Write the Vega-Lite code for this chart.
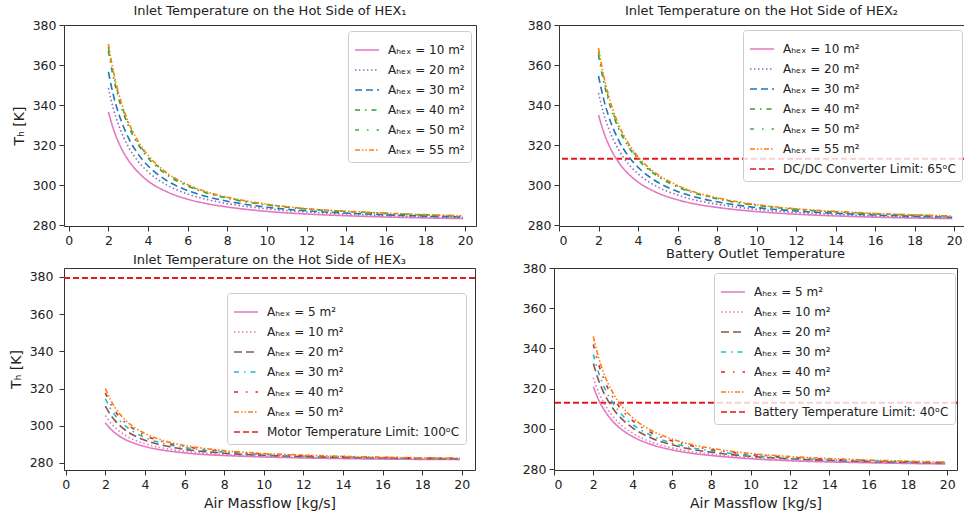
{
"$schema": "https://vega.github.io/schema/vega-lite/v6.json",
"padding": {"left": 8, "top": 4, "right": 0, "bottom": 0},
"background": "white",
"datasets": {
"hex1": [
{"a":"10","x":2,"T":336.5},{"a":"10","x":2.25,"T":328.1},{"a":"10","x":2.5,"T":321.6},{"a":"10","x":3,"T":312.5},{"a":"10","x":3.5,"T":306.4},{"a":"10","x":4,"T":302.0},{"a":"10","x":5,"T":296.4},{"a":"10","x":6,"T":292.9},{"a":"10","x":7,"T":290.6},{"a":"10","x":8,"T":289.0},{"a":"10","x":10,"T":286.8},{"a":"10","x":12,"T":285.5},{"a":"10","x":15,"T":284.3},{"a":"10","x":19.9,"T":283.2},
{"a":"20","x":2,"T":348.5},{"a":"20","x":2.25,"T":338.2},{"a":"20","x":2.5,"T":330.4},{"a":"20","x":3,"T":319.3},{"a":"20","x":3.5,"T":311.8},{"a":"20","x":4,"T":306.6},{"a":"20","x":5,"T":299.7},{"a":"20","x":6,"T":295.5},{"a":"20","x":7,"T":292.7},{"a":"20","x":8,"T":290.7},{"a":"20","x":10,"T":288.1},{"a":"20","x":12,"T":286.5},{"a":"20","x":15,"T":285.1},{"a":"20","x":19.9,"T":283.7},
{"a":"30","x":2,"T":356.5},{"a":"30","x":2.25,"T":345.0},{"a":"30","x":2.5,"T":336.3},{"a":"30","x":3,"T":323.8},{"a":"30","x":3.5,"T":315.5},{"a":"30","x":4,"T":309.6},{"a":"30","x":5,"T":301.9},{"a":"30","x":6,"T":297.2},{"a":"30","x":7,"T":294.1},{"a":"30","x":8,"T":291.9},{"a":"30","x":10,"T":288.9},{"a":"30","x":12,"T":287.1},{"a":"30","x":15,"T":285.5},{"a":"30","x":19.9,"T":284.0},
{"a":"40","x":2,"T":367.0},{"a":"40","x":2.25,"T":353.9},{"a":"40","x":2.5,"T":344.0},{"a":"40","x":3,"T":329.8},{"a":"40","x":3.5,"T":320.3},{"a":"40","x":4,"T":313.6},{"a":"40","x":5,"T":304.8},{"a":"40","x":6,"T":299.5},{"a":"40","x":7,"T":295.9},{"a":"40","x":8,"T":293.4},{"a":"40","x":10,"T":290.0},{"a":"40","x":12,"T":288.0},{"a":"40","x":15,"T":286.2},{"a":"40","x":19.9,"T":284.4},
{"a":"50","x":2,"T":369.0},{"a":"50","x":2.25,"T":355.6},{"a":"50","x":2.5,"T":345.4},{"a":"50","x":3,"T":330.9},{"a":"50","x":3.5,"T":321.2},{"a":"50","x":4,"T":314.4},{"a":"50","x":5,"T":305.4},{"a":"50","x":6,"T":299.9},{"a":"50","x":7,"T":296.2},{"a":"50","x":8,"T":293.7},{"a":"50","x":10,"T":290.2},{"a":"50","x":12,"T":288.1},{"a":"50","x":15,"T":286.3},{"a":"50","x":19.9,"T":284.5},
{"a":"55","x":2,"T":370.5},{"a":"55","x":2.25,"T":356.9},{"a":"55","x":2.5,"T":346.5},{"a":"55","x":3,"T":331.7},{"a":"55","x":3.5,"T":321.9},{"a":"55","x":4,"T":314.9},{"a":"55","x":5,"T":305.8},{"a":"55","x":6,"T":300.2},{"a":"55","x":7,"T":296.5},{"a":"55","x":8,"T":293.9},{"a":"55","x":10,"T":290.4},{"a":"55","x":12,"T":288.2},{"a":"55","x":15,"T":286.4},{"a":"55","x":19.9,"T":284.6}
],
"hex2": [
{"a":"10","x":2,"T":335.0},{"a":"10","x":2.25,"T":326.8},{"a":"10","x":2.5,"T":320.5},{"a":"10","x":3,"T":311.6},{"a":"10","x":3.5,"T":305.7},{"a":"10","x":4,"T":301.5},{"a":"10","x":5,"T":296.0},{"a":"10","x":6,"T":292.6},{"a":"10","x":7,"T":290.3},{"a":"10","x":8,"T":288.8},{"a":"10","x":10,"T":286.7},{"a":"10","x":12,"T":285.4},{"a":"10","x":15,"T":284.2},{"a":"10","x":19.9,"T":283.2},
{"a":"20","x":2,"T":346.0},{"a":"20","x":2.25,"T":336.1},{"a":"20","x":2.5,"T":328.6},{"a":"20","x":3,"T":317.9},{"a":"20","x":3.5,"T":310.7},{"a":"20","x":4,"T":305.6},{"a":"20","x":5,"T":299.0},{"a":"20","x":6,"T":295.0},{"a":"20","x":7,"T":292.2},{"a":"20","x":8,"T":290.4},{"a":"20","x":10,"T":287.8},{"a":"20","x":12,"T":286.3},{"a":"20","x":15,"T":284.9},{"a":"20","x":19.9,"T":283.6},
{"a":"30","x":2,"T":354.5},{"a":"30","x":2.25,"T":343.3},{"a":"30","x":2.5,"T":334.8},{"a":"30","x":3,"T":322.7},{"a":"30","x":3.5,"T":314.6},{"a":"30","x":4,"T":308.9},{"a":"30","x":5,"T":301.4},{"a":"30","x":6,"T":296.8},{"a":"30","x":7,"T":293.7},{"a":"30","x":8,"T":291.6},{"a":"30","x":10,"T":288.7},{"a":"30","x":12,"T":287.0},{"a":"30","x":15,"T":285.4},{"a":"30","x":19.9,"T":283.9},
{"a":"40","x":2,"T":365.0},{"a":"40","x":2.25,"T":352.2},{"a":"40","x":2.5,"T":342.5},{"a":"40","x":3,"T":328.6},{"a":"40","x":3.5,"T":319.4},{"a":"40","x":4,"T":312.8},{"a":"40","x":5,"T":304.3},{"a":"40","x":6,"T":299.1},{"a":"40","x":7,"T":295.5},{"a":"40","x":8,"T":293.1},{"a":"40","x":10,"T":289.8},{"a":"40","x":12,"T":287.8},{"a":"40","x":15,"T":286.0},{"a":"40","x":19.9,"T":284.4},
{"a":"50","x":2,"T":366.5},{"a":"50","x":2.25,"T":353.5},{"a":"50","x":2.5,"T":343.6},{"a":"50","x":3,"T":329.5},{"a":"50","x":3.5,"T":320.1},{"a":"50","x":4,"T":313.4},{"a":"50","x":5,"T":304.7},{"a":"50","x":6,"T":299.4},{"a":"50","x":7,"T":295.8},{"a":"50","x":8,"T":293.3},{"a":"50","x":10,"T":290.0},{"a":"50","x":12,"T":287.9},{"a":"50","x":15,"T":286.1},{"a":"50","x":19.9,"T":284.4},
{"a":"55","x":2,"T":368.5},{"a":"55","x":2.25,"T":355.2},{"a":"55","x":2.5,"T":345.1},{"a":"55","x":3,"T":330.6},{"a":"55","x":3.5,"T":321.0},{"a":"55","x":4,"T":314.2},{"a":"55","x":5,"T":305.2},{"a":"55","x":6,"T":299.8},{"a":"55","x":7,"T":296.1},{"a":"55","x":8,"T":293.6},{"a":"55","x":10,"T":290.2},{"a":"55","x":12,"T":288.1},{"a":"55","x":15,"T":286.3},{"a":"55","x":19.9,"T":284.5}
],
"hex3": [
{"a":"5","x":2,"T":301.5},{"a":"5","x":2.25,"T":298.4},{"a":"5","x":2.5,"T":296.0},{"a":"5","x":3,"T":292.6},{"a":"5","x":3.5,"T":290.4},{"a":"5","x":4,"T":288.8},{"a":"5","x":5,"T":286.7},{"a":"5","x":6,"T":285.4},{"a":"5","x":7,"T":284.5},{"a":"5","x":8,"T":284.0},{"a":"5","x":10,"T":283.2},{"a":"5","x":12,"T":282.7},{"a":"5","x":15,"T":282.2},{"a":"5","x":19.9,"T":281.8},
{"a":"10","x":2,"T":305.5},{"a":"10","x":2.25,"T":301.8},{"a":"10","x":2.5,"T":298.9},{"a":"10","x":3,"T":294.9},{"a":"10","x":3.5,"T":292.2},{"a":"10","x":4,"T":290.3},{"a":"10","x":5,"T":287.8},{"a":"10","x":6,"T":286.3},{"a":"10","x":7,"T":285.2},{"a":"10","x":8,"T":284.5},{"a":"10","x":10,"T":283.6},{"a":"10","x":12,"T":283.0},{"a":"10","x":15,"T":282.5},{"a":"10","x":19.9,"T":282.0},
{"a":"20","x":2,"T":310.5},{"a":"20","x":2.25,"T":306.0},{"a":"20","x":2.5,"T":302.6},{"a":"20","x":3,"T":297.7},{"a":"20","x":3.5,"T":294.5},{"a":"20","x":4,"T":292.2},{"a":"20","x":5,"T":289.2},{"a":"20","x":6,"T":287.3},{"a":"20","x":7,"T":286.1},{"a":"20","x":8,"T":285.2},{"a":"20","x":10,"T":284.1},{"a":"20","x":12,"T":283.4},{"a":"20","x":15,"T":282.8},{"a":"20","x":19.9,"T":282.2},
{"a":"30","x":2,"T":314.5},{"a":"30","x":2.25,"T":309.4},{"a":"30","x":2.5,"T":305.5},{"a":"30","x":3,"T":300.0},{"a":"30","x":3.5,"T":296.3},{"a":"30","x":4,"T":293.7},{"a":"30","x":5,"T":290.3},{"a":"30","x":6,"T":288.2},{"a":"30","x":7,"T":286.8},{"a":"30","x":8,"T":285.8},{"a":"30","x":10,"T":284.5},{"a":"30","x":12,"T":283.7},{"a":"30","x":15,"T":283.0},{"a":"30","x":19.9,"T":282.3},
{"a":"40","x":2,"T":317.5},{"a":"40","x":2.25,"T":312.0},{"a":"40","x":2.5,"T":307.7},{"a":"40","x":3,"T":301.7},{"a":"40","x":3.5,"T":297.7},{"a":"40","x":4,"T":294.8},{"a":"40","x":5,"T":291.1},{"a":"40","x":6,"T":288.9},{"a":"40","x":7,"T":287.3},{"a":"40","x":8,"T":286.3},{"a":"40","x":10,"T":284.8},{"a":"40","x":12,"T":284.0},{"a":"40","x":15,"T":283.2},{"a":"40","x":19.9,"T":282.5},
{"a":"50","x":2,"T":320.0},{"a":"50","x":2.25,"T":314.1},{"a":"50","x":2.5,"T":309.6},{"a":"50","x":3,"T":303.1},{"a":"50","x":3.5,"T":298.8},{"a":"50","x":4,"T":295.8},{"a":"50","x":5,"T":291.8},{"a":"50","x":6,"T":289.4},{"a":"50","x":7,"T":287.8},{"a":"50","x":8,"T":286.6},{"a":"50","x":10,"T":285.1},{"a":"50","x":12,"T":284.2},{"a":"50","x":15,"T":283.3},{"a":"50","x":19.9,"T":282.6}
],
"batt": [
{"a":"5","x":2,"T":321.0},{"a":"5","x":2.25,"T":314.9},{"a":"5","x":2.5,"T":310.3},{"a":"5","x":3,"T":303.7},{"a":"5","x":3.5,"T":299.3},{"a":"5","x":4,"T":296.2},{"a":"5","x":5,"T":292.1},{"a":"5","x":6,"T":289.6},{"a":"5","x":7,"T":287.9},{"a":"5","x":8,"T":286.8},{"a":"5","x":10,"T":285.2},{"a":"5","x":12,"T":284.2},{"a":"5","x":15,"T":283.4},{"a":"5","x":19.9,"T":282.6},
{"a":"10","x":2,"T":325.5},{"a":"10","x":2.25,"T":318.7},{"a":"10","x":2.5,"T":313.6},{"a":"10","x":3,"T":306.2},{"a":"10","x":3.5,"T":301.3},{"a":"10","x":4,"T":297.9},{"a":"10","x":5,"T":293.3},{"a":"10","x":6,"T":290.6},{"a":"10","x":7,"T":288.7},{"a":"10","x":8,"T":287.4},{"a":"10","x":10,"T":285.7},{"a":"10","x":12,"T":284.6},{"a":"10","x":15,"T":283.7},{"a":"10","x":19.9,"T":282.8},
{"a":"20","x":2,"T":332.5},{"a":"20","x":2.25,"T":324.7},{"a":"20","x":2.5,"T":318.7},{"a":"20","x":3,"T":310.2},{"a":"20","x":3.5,"T":304.5},{"a":"20","x":4,"T":300.5},{"a":"20","x":5,"T":295.3},{"a":"20","x":6,"T":292.1},{"a":"20","x":7,"T":289.9},{"a":"20","x":8,"T":288.4},{"a":"20","x":10,"T":286.4},{"a":"20","x":12,"T":285.2},{"a":"20","x":15,"T":284.1},{"a":"20","x":19.9,"T":283.1},
{"a":"30","x":2,"T":337.0},{"a":"30","x":2.25,"T":328.5},{"a":"30","x":2.5,"T":322.0},{"a":"30","x":3,"T":312.8},{"a":"30","x":3.5,"T":306.6},{"a":"30","x":4,"T":302.2},{"a":"30","x":5,"T":296.5},{"a":"30","x":6,"T":293.0},{"a":"30","x":7,"T":290.7},{"a":"30","x":8,"T":289.1},{"a":"30","x":10,"T":286.9},{"a":"30","x":12,"T":285.5},{"a":"30","x":15,"T":284.4},{"a":"30","x":19.9,"T":283.2},
{"a":"40","x":2,"T":342.0},{"a":"40","x":2.25,"T":332.7},{"a":"40","x":2.5,"T":325.7},{"a":"40","x":3,"T":315.6},{"a":"40","x":3.5,"T":308.9},{"a":"40","x":4,"T":304.1},{"a":"40","x":5,"T":297.9},{"a":"40","x":6,"T":294.1},{"a":"40","x":7,"T":291.6},{"a":"40","x":8,"T":289.8},{"a":"40","x":10,"T":287.4},{"a":"40","x":12,"T":285.9},{"a":"40","x":15,"T":284.7},{"a":"40","x":19.9,"T":283.4},
{"a":"50","x":2,"T":346.0},{"a":"50","x":2.25,"T":336.1},{"a":"50","x":2.5,"T":328.6},{"a":"50","x":3,"T":317.9},{"a":"50","x":3.5,"T":310.7},{"a":"50","x":4,"T":305.6},{"a":"50","x":5,"T":299.0},{"a":"50","x":6,"T":295.0},{"a":"50","x":7,"T":292.2},{"a":"50","x":8,"T":290.4},{"a":"50","x":10,"T":287.8},{"a":"50","x":12,"T":286.3},{"a":"50","x":15,"T":284.9},{"a":"50","x":19.9,"T":283.6}
]
},
"vconcat": [
{
"hconcat": [
{
"width": 412, "height": 201,
"title": "Inlet Temperature on the Hot Side of  HEX₁",
"data": {"name": "hex1"},
"mark": {"type": "line", "strokeWidth": 1.6, "interpolate": "monotone"},
"encoding": {
"x": {"field": "x", "type": "quantitative", "scale": {"domain": [-0.24, 20.55], "nice": false, "zero": false}, "axis": {"values": [0,2,4,6,8,10,12,14,16,18,20], "title": null}},
"y": {"field": "T", "type": "quantitative", "scale": {"domain": [279.5, 380], "nice": false, "zero": false}, "axis": {"values": [280,300,320,340,360,380], "title": "Tₕ [K]"}},
"color": {"field": "a", "type": "nominal", "scale": {"domain": ["10","20","30","40","50","55"], "range": ["#e377c2","#9467bd","#1f77b4","#2ca02c","#3cb43c","#ff7f0e"]},
"legend": {"title": null, "orient": "none", "legendX": 284, "legendY": 6, "labelExpr": "'Aₕₑₓ = ' + datum.label + ' m²'"}},
"strokeDash": {"field": "a", "type": "nominal", "scale": {"domain": ["10","20","30","40","50","55"], "range": [[1,0],[1.5,2.5],[7,4],[5,5,1.5,5],[4,8,1.5,8],[5,2,1.5,2,1.5,2]]},
"legend": {"title": null, "orient": "none", "legendX": 284, "legendY": 6, "labelExpr": "'Aₕₑₓ = ' + datum.label + ' m²'"}}
}
},
{
"width": 405, "height": 201,
"title": "Inlet Temperature on the Hot Side of  HEX₂",
"encoding": {
"y": {"field": "T", "type": "quantitative", "scale": {"domain": [279.5, 380], "nice": false, "zero": false}, "axis": {"values": [280,300,320,340,360,380], "title": null}},
"color": {"field": "a", "type": "nominal", "scale": {"domain": ["10","20","30","40","50","55","lim"], "range": ["#e377c2","#9467bd","#1f77b4","#2ca02c","#3cb43c","#ff7f0e","#e41a1c"]},
"legend": {"title": null, "orient": "none", "legendX": 184, "legendY": 5, "labelExpr": "datum.label == 'lim' ? 'DC/DC Converter Limit: 65ᵒC' : 'Aₕₑₓ = ' + datum.label + ' m²'"}},
"strokeDash": {"field": "a", "type": "nominal", "scale": {"domain": ["10","20","30","40","50","55","lim"], "range": [[1,0],[1.5,2.5],[7,4],[5,5,1.5,5],[4,8,1.5,8],[5,2,1.5,2,1.5,2],[6,3]]},
"legend": {"title": null, "orient": "none", "legendX": 184, "legendY": 5, "labelExpr": "datum.label == 'lim' ? 'DC/DC Converter Limit: 65ᵒC' : 'Aₕₑₓ = ' + datum.label + ' m²'"}}
},
"layer": [
{"data": {"values": [{"a": "lim", "T": 313.15}]}, "mark": {"type": "rule", "strokeWidth": 2}, "encoding": {}},
{"data": {"name": "hex2"}, "mark": {"type": "line", "strokeWidth": 1.6, "interpolate": "monotone"},
"encoding": {"x": {"field": "x", "type": "quantitative", "scale": {"domain": [0, 20.5], "nice": false, "zero": false}, "axis": {"values": [0,2,4,6,8,10,12,14,16,18,20], "title": null}}}}
]
}
],
"spacing": 49,
"resolve": {"scale": {"x": "independent", "y": "independent", "color": "independent", "strokeDash": "independent"}, "legend": {"color": "independent", "strokeDash": "independent"}}
},
{
"hconcat": [
{
"width": 411, "height": 202,
"title": "Inlet Temperature on the Hot Side of  HEX₃",
"encoding": {
"y": {"field": "T", "type": "quantitative", "scale": {"domain": [276.2, 384.8], "nice": false, "zero": false}, "axis": {"values": [280,300,320,340,360,380], "title": "Tₕ [K]", "labelPadding": 6}},
"color": {"field": "a", "type": "nominal", "scale": {"domain": ["5","10","20","30","40","50","lim"], "range": ["#e377c2","#e377c2","#8c564b","#17becf","#d62728","#ff7f0e","#e41a1c"]},
"legend": {"title": null, "orient": "none", "legendX": 163, "legendY": 25, "labelExpr": "datum.label == 'lim' ? 'Motor Temperature Limit: 100ᵒC' : 'Aₕₑₓ = ' + datum.label + ' m²'"}},
"strokeDash": {"field": "a", "type": "nominal", "scale": {"domain": ["5","10","20","30","40","50","lim"], "range": [[1,0],[1.5,2.5],[8,4],[5,5,1.5,5],[4,8,1.5,8],[5,2,1.5,2,1.5,2],[6,3]]},
"legend": {"title": null, "orient": "none", "legendX": 163, "legendY": 25, "labelExpr": "datum.label == 'lim' ? 'Motor Temperature Limit: 100ᵒC' : 'Aₕₑₓ = ' + datum.label + ' m²'"}}
},
"layer": [
{"data": {"values": [{"a": "lim", "T": 379.4}]}, "mark": {"type": "rule", "strokeWidth": 2}, "encoding": {}},
{"data": {"name": "hex3"}, "mark": {"type": "line", "strokeWidth": 1.6, "interpolate": "monotone"},
"encoding": {"x": {"field": "x", "type": "quantitative", "scale": {"domain": [-0.09, 20.67], "nice": false, "zero": false}, "axis": {"values": [0,2,4,6,8,10,12,14,16,18,20], "title": "Air Massflow [kg/s]"}}}}
]
},
{
"width": 403, "height": 202,
"title": "Battery Outlet Temperature",
"encoding": {
"y": {"field": "T", "type": "quantitative", "scale": {"domain": [279.6, 380], "nice": false, "zero": false}, "axis": {"values": [280,300,320,340,360,380], "title": null}},
"color": {"field": "a", "type": "nominal", "scale": {"domain": ["5","10","20","30","40","50","lim"], "range": ["#e377c2","#e377c2","#8c564b","#17becf","#d62728","#ff7f0e","#e41a1c"]},
"legend": {"title": null, "orient": "none", "legendX": 160, "legendY": 5, "labelExpr": "datum.label == 'lim' ? 'Battery Temperature Limit: 40ᵒC' : 'Aₕₑₓ = ' + datum.label + ' m²'"}},
"strokeDash": {"field": "a", "type": "nominal", "scale": {"domain": ["5","10","20","30","40","50","lim"], "range": [[1,0],[1.5,2.5],[8,4],[5,5,1.5,5],[4,8,1.5,8],[5,2,1.5,2,1.5,2],[6,3]]},
"legend": {"title": null, "orient": "none", "legendX": 160, "legendY": 5, "labelExpr": "datum.label == 'lim' ? 'Battery Temperature Limit: 40ᵒC' : 'Aₕₑₓ = ' + datum.label + ' m²'"}}
},
"layer": [
{"data": {"values": [{"a": "lim", "T": 313.0}]}, "mark": {"type": "rule", "strokeWidth": 2}, "encoding": {}},
{"data": {"name": "batt"}, "mark": {"type": "line", "strokeWidth": 1.6, "interpolate": "monotone"},
"encoding": {"x": {"field": "x", "type": "quantitative", "scale": {"domain": [0, 20.5], "nice": false, "zero": false}, "axis": {"values": [0,2,4,6,8,10,12,14,16,18,20], "title": "Air Massflow [kg/s]"}}}}
]
}
],
"spacing": 44,
"resolve": {"scale": {"x": "independent", "y": "independent", "color": "independent", "strokeDash": "independent"}, "legend": {"color": "independent", "strokeDash": "independent"}}
}
],
"spacing": 0,
"resolve": {"scale": {"x": "independent", "y": "independent", "color": "independent", "strokeDash": "independent"}, "legend": {"color": "independent", "strokeDash": "independent"}},
"config": {
"font": "DejaVu Sans",
"view": {"stroke": "#333", "strokeWidth": 1},
"axis": {"grid": false, "domain": false, "tickColor": "#333", "tickSize": 5, "labelPadding": 3, "labelFontSize": 12.5, "labelColor": "#222", "titleFontSize": 14, "titleFontWeight": "normal", "titleColor": "#222", "titlePadding": 6, "labelFont": "DejaVu Sans", "titleFont": "DejaVu Sans"},
"title": {"fontSize": 13, "fontWeight": "normal", "color": "#222", "offset": 1, "font": "DejaVu Sans"},
"legend": {"padding": 6, "fillColor": "rgba(255,255,255,0.8)", "strokeColor": "#cccccc", "cornerRadius": 3, "symbolType": "stroke", "symbolSize": 576, "symbolStrokeWidth": 1.6, "labelFont": "DejaVu Sans", "labelFontSize": 12, "labelColor": "#222", "labelLimit": 400, "rowPadding": 1, "labelOffset": 8}
}
}
